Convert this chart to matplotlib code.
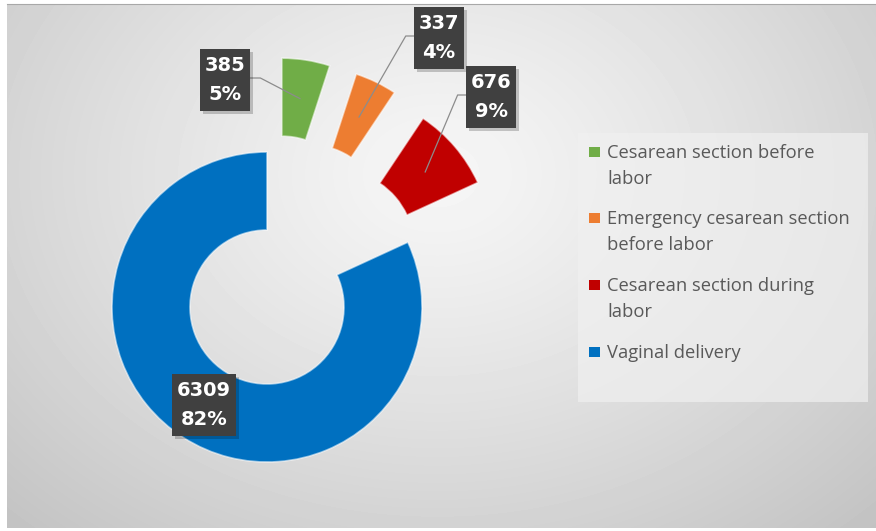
import textwrap

import matplotlib.pyplot as plt
import numpy as np
from matplotlib.patches import Rectangle

# delivery modes and counts
categories = [
    "Cesarean section before labor",
    "Emergency cesarean section before labor",
    "Cesarean section during labor",
    "Vaginal delivery",
]
counts = [385, 337, 676, 6309]
colors = ["#70AD47", "#ED7D31", "#C00000", "#0070C0"]

W, H = 876, 531
fig = plt.figure(figsize=(W / 100, H / 100), dpi=100)
fig.patch.set_facecolor("white")

# soft radial grey background of the chart area
bg = fig.add_axes([7 / W, 3 / H, 869 / W, 524 / H])
yy, xx = np.mgrid[0:524, 0:869]
d = np.sqrt(((xx - 430) / 540) ** 2 + ((yy - 170) / 420) ** 2)
shade = 0.965 - 0.17 * np.clip(d, 0, 1.4) ** 1.2
bg.imshow(shade, cmap="gray", vmin=0, vmax=1, aspect="auto", interpolation="bilinear")
bg.set_xticks([])
bg.set_yticks([])
for name, s in bg.spines.items():
    s.set_visible(name == "top")
bg.spines["top"].set_color("#a8a8a8")

# main axes in pixel units (y up)
ax = fig.add_axes([0, 0, 1, 1])
ax.patch.set_alpha(0)
explode = [95, 95, 92, 0]
wedges, _ = ax.pie(
    counts,
    colors=colors,
    explode=explode,
    startangle=90,
    counterclock=False,
    radius=155,
    center=(267, H - 307),
    wedgeprops=dict(width=78, edgecolor=(1, 1, 1, 0.55), linewidth=1.2),
)
ax.set_xlim(0, W)
ax.set_ylim(0, H)
ax.set_aspect("auto")
ax.axis("off")

# value / percent labels
total = sum(counts)
label_pos = [(225, 80), (439, 38), (491, 97), (204, 405)]
labels = []
for n, (lx, ly) in zip(counts, label_pos):
    s = f"{n}\n{round(100 * n / total)}%"
    t = ax.text(lx, H - ly, s, ha="center", va="center", color="white",
                fontsize=14, fontweight="bold", linespacing=1.7, zorder=6)
    labels.append(t)

fig.canvas.draw()
inv = ax.transData.inverted()

# dark boxes with a drop shadow behind each label
boxes = []
for t in labels:
    tb = t.get_window_extent().transformed(inv)
    x0, y0 = tb.x0 - 5, tb.y0 - 7
    w, h = tb.width + 10, tb.height + 14
    ax.add_patch(Rectangle((x0 + 3, y0 - 3), w, h, fc=(0, 0, 0, 0.2), ec="none", zorder=4))
    ax.add_patch(Rectangle((x0, y0), w, h, fc="#404040", ec="none", zorder=5))
    boxes.append((x0, y0, w, h))

# leader lines for the pulled-out slices
for wd, (x0, y0, w, h) in zip(wedges[:3], boxes[:3]):
    th = np.deg2rad((wd.theta1 + wd.theta2) / 2)
    rm = wd.r - wd.width / 2
    axp = wd.center[0] + rm * np.cos(th)
    ayp = wd.center[1] + rm * np.sin(th)
    by = y0 + h / 2 + 2
    if x0 + w < axp:
        sx, ex = x0 + w, x0 + w + 10
    else:
        sx, ex = x0, x0 - 8
    ax.plot([sx, ex, axp], [by, by, ayp], color="#8c8c8c", lw=0.9, zorder=3)

# legend
ax.add_patch(Rectangle((578, H - 402), 290, 269, fc=(0.94, 0.94, 0.94), alpha=0.7,
                       ec="none", zorder=2))
legend_y = [152, 218, 285, 352]
for name, c, y in zip(categories, colors, legend_y):
    ax.add_patch(Rectangle((589, H - y - 5), 11, 10, fc=c, ec="none", zorder=3))
    for i, line in enumerate(textwrap.fill(name, 26).split("\n")):
        ax.text(607, H - y - 6 - 26 * i, line, ha="left", va="baseline",
                fontsize=13.2, family="Open Sans", color="#595959", zorder=3)

fig.savefig("out.png", dpi=100)
